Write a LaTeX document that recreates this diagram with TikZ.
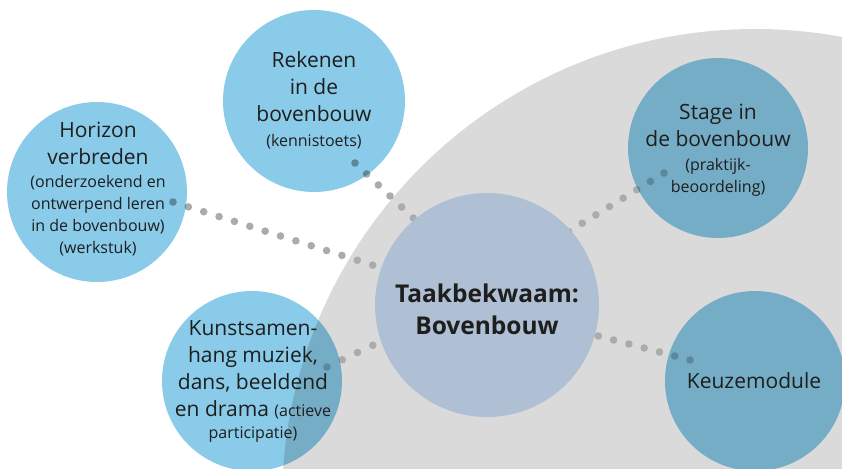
\documentclass[tikz,border=0pt]{standalone}
\usepackage{fontspec}
\setmainfont{Open Sans}
\usetikzlibrary{calc}
\definecolor{bgrey}{HTML}{DADADA}
\definecolor{lblue}{HTML}{89CBE8}
\definecolor{cblue}{HTML}{AFC0D4}
\definecolor{dotc}{HTML}{ABABAB}
\definecolor{txt}{HTML}{1E1E1E}
\newcommand\bigf{\fontsize{21}{27}\selectfont}
\newcommand\smf{\fontsize{16}{22}\selectfont}
\newcommand\mydots[3]{\foreach \i in {0,...,#3}{\fill[dotc] ($(#1)!\i/#3!(#2)$) circle (3.8);}}
\tikzset{
  outer/.style={circle, fill=lblue, inner sep=0pt, minimum size=180pt},
  label/.style={align=center, text=txt, font=\bigf, inner sep=0pt},
}
\begin{document}
\begin{tikzpicture}[x=1pt,y=-1pt]
\useasboundingbox (0,0) rectangle (842,468);
\clip (0,0) rectangle (842,468);
\fill[bgrey] (755,502) circle (473);
% connector end points
\coordinate (h1) at (173,202); \coordinate (h2) at (388,270);
\coordinate (r1) at (355,163); \coordinate (r2) at (425,229);
\coordinate (s1) at (664,173); \coordinate (s2) at (555,240);
\coordinate (k1) at (690,360); \coordinate (k2) at (583,332);
\coordinate (u1) at (327,367); \coordinate (u2) at (388,338);
\mydots{h1}{h2}{14}
\mydots{r1}{r2}{6}
\mydots{s1}{s2}{8}
\mydots{k1}{k2}{7}
\mydots{u1}{u2}{4}
\begin{scope}[blend mode=multiply]
\node[outer, minimum size=182pt] (rek) at (314,101) {};
\node[outer] (hor) at (97,192) {};
\node[outer] (sta) at (718,148) {};
\node[outer] (kun) at (252,381) {};
\node[outer] (keu) at (755,381) {};
\end{scope}
\node[circle, fill=cblue, inner sep=0pt, minimum size=224pt] (cen) at (487,305) {};
% texts
\node[label] (trek) at (314,100) {Rekenen\\in de\\bovenbouw\\[-2pt]{\smf (kennistoets)}};
\node[label] (thor) at (98,189) {Horizon\\verbreden\\[-4pt]{\smf (onderzoekend en}\\[-5pt]{\smf ontwerpend leren}\\[-5pt]{\smf in de bovenbouw)}\\[-5pt]{\smf (werkstuk)}};
\node[label] (tsta) at (718,150) {Stage in\\de bovenbouw\\[-3pt]{\smf (praktijk-}\\[-5pt]{\smf beoordeling)}};
\node[label] (tkun) at (253,381) {Kunstsamen-\\hang muziek,\\dans, beeldend\\en drama {\smf (actieve}\\[-5pt]{\smf participatie)}};
\node[label] (tkeu) at (754,381) {Keuzemodule};
\node[label, font=\fontsize{24.5}{32}\selectfont\bfseries] (tcen) at (487,309) {Taakbekwaam:\\Bovenbouw};
\end{tikzpicture}
\end{document}
